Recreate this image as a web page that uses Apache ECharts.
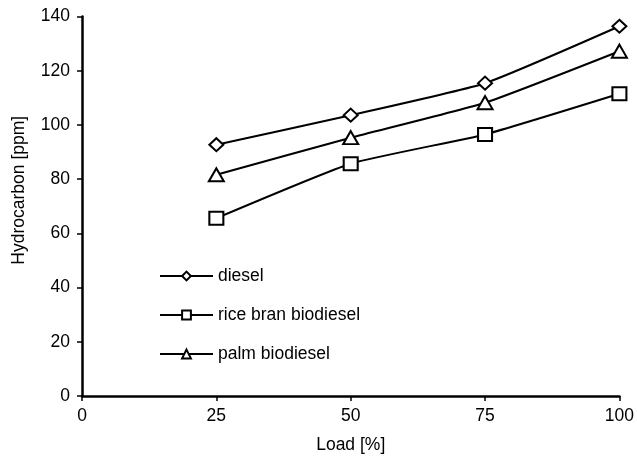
<!DOCTYPE html>
<html>
<head>
<meta charset="utf-8">
<script src="https://cdn.jsdelivr.net/npm/echarts@6/dist/echarts.min.js"></script>
<style>html,body{margin:0;padding:0;background:#fff}#c{width:637px;height:460px}</style>
</head>
<body>
<div id="c"></div>
<script>
var loads = [25, 50, 75, 100];
var diesel = [92.7, 103.6, 115.4, 136.4];
var riceBran = [65.6, 85.7, 96.5, 111.5];
var palm = [81.6, 95.3, 108.2, 127.2];
var seriesNames = ['diesel', 'rice bran biodiesel', 'palm biodiesel'];

function pairs(xs, ys) { return xs.map(function (x, i) { return [x, ys[i]]; }); }

var font = 'Liberation Sans, Arial, sans-serif';
var fs = 17.5;
function mk(name, data, symbol, size) {
  return {
    name: name, type: 'line', data: pairs(loads, data), smooth: 0.15,
    symbol: symbol, symbolSize: size, showSymbol: true,
    lineStyle: { color: '#000', width: 2 },
    itemStyle: { color: '#fff', borderColor: '#000', borderWidth: 2 },
    z: 3
  };
}
var chart = echarts.init(document.getElementById('c'), null, { renderer: 'canvas' });
chart.setOption({
  animation: false,
  backgroundColor: '#fff',
  grid: { left: 82, right: 17, top: 16.5, bottom: 64, containLabel: false },
  legend: {
    orient: 'vertical', left: 154, top: 262, itemWidth: 53, itemHeight: 11, itemGap: 21,
    textStyle: { fontFamily: font, fontSize: fs, color: '#000' },
    data: seriesNames
  },
  xAxis: {
    type: 'value', min: 0, max: 100, interval: 25,
    name: 'Load [%]', nameLocation: 'middle', nameGap: 40,
    nameTextStyle: { fontFamily: font, fontSize: fs, color: '#000' },
    axisLine: { show: true, lineStyle: { color: '#000', width: 2.5 } },
    axisTick: { show: true, inside: false, length: 5, lineStyle: { color: '#000', width: 1.5 } },
    axisLabel: { fontFamily: font, fontSize: fs, color: '#000', margin: 11 },
    splitLine: { show: false }
  },
  yAxis: {
    type: 'value', min: 0, max: 140, interval: 20,
    name: 'Hydrocarbon [ppm]', nameLocation: 'middle', nameGap: 54, nameRotate: 90,
    nameTextStyle: { fontFamily: font, fontSize: fs, color: '#000', padding: [0, 0, 0, 32] },
    axisLine: { show: true, lineStyle: { color: '#000', width: 2.5 } },
    axisTick: { show: true, inside: false, length: 5, lineStyle: { color: '#000', width: 1.5 } },
    axisLabel: { fontFamily: font, fontSize: fs, color: '#000', margin: 12 },
    splitLine: { show: false }
  },
  series: [
    mk(seriesNames[0], diesel, 'diamond', [14, 13]),
    mk(seriesNames[1], riceBran, 'rect', [14, 13]),
    mk(seriesNames[2], palm, 'triangle', [15, 13])
  ]
});
</script>
</body>
</html>
